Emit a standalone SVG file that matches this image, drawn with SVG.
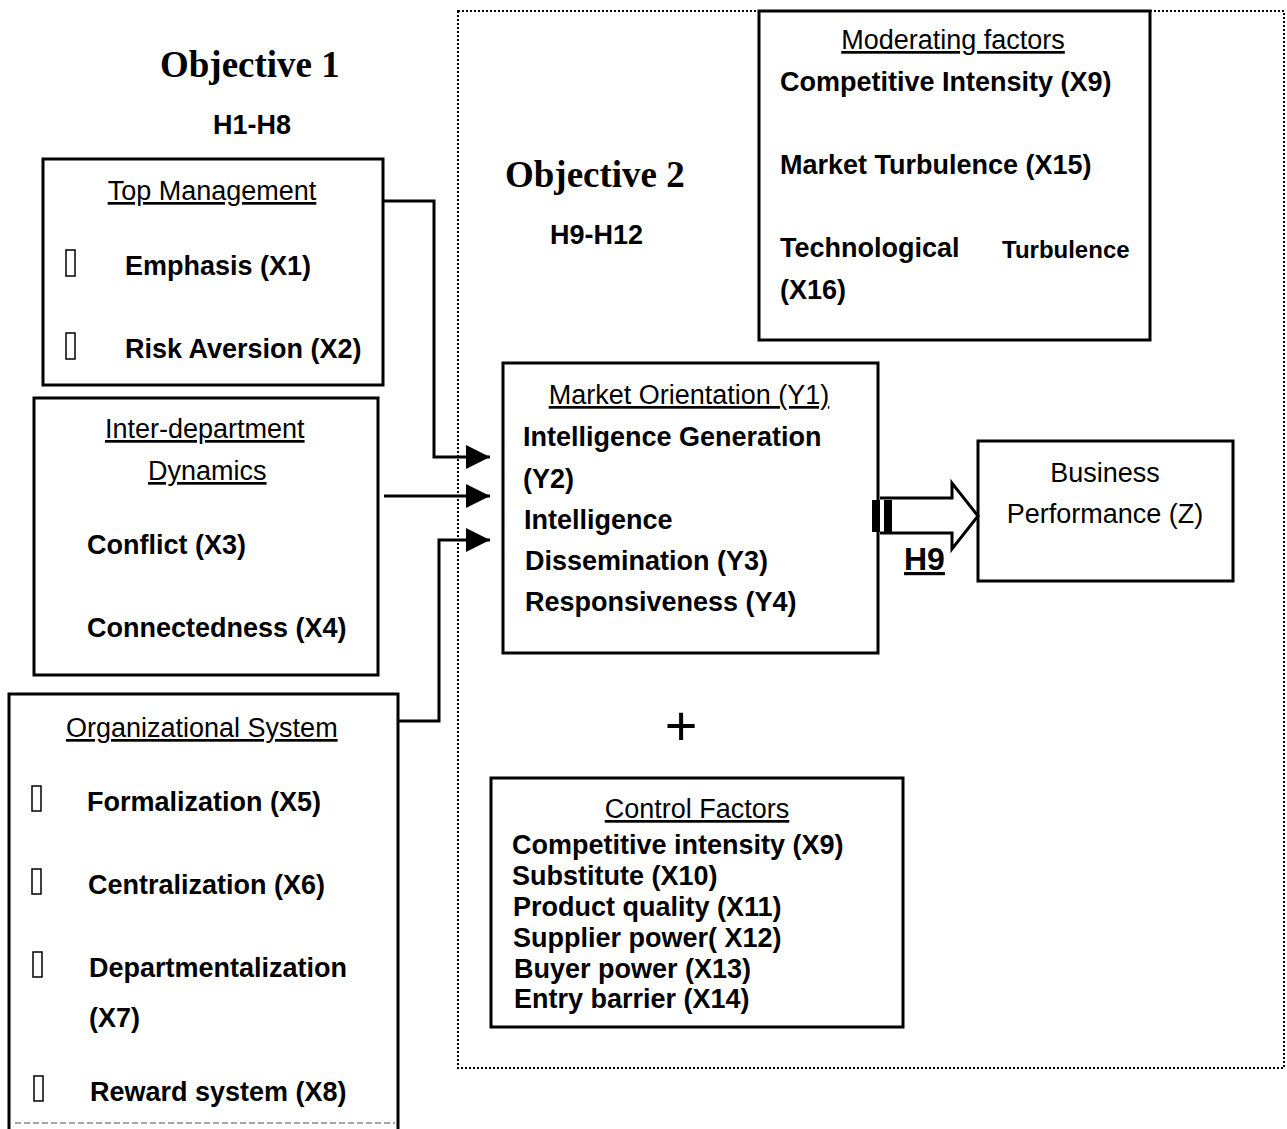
<svg xmlns="http://www.w3.org/2000/svg" width="1287" height="1129" viewBox="0 0 1287 1129">
<defs>
<style>
.box{fill:#fff;stroke:#000;stroke-width:3}
.t{font-family:"Liberation Sans",Arial,sans-serif;font-size:27px;font-weight:bold;fill:#000}
.n{font-family:"Liberation Sans",Arial,sans-serif;font-size:27px;fill:#000}
.u{text-decoration:underline}
.obj{font-family:"Liberation Serif","Times New Roman",serif;font-size:37px;font-weight:bold;fill:#000}
.bul{fill:#fff;stroke:#000;stroke-width:1.5}
.ln{fill:none;stroke:#000;stroke-width:3}
</style>
<marker id="head" viewBox="0 0 24 24" refX="24" refY="12" markerWidth="24" markerHeight="24" markerUnits="userSpaceOnUse" orient="auto">
<path d="M0,0 L24,12 L0,24 Z" fill="#000"/>
</marker>
</defs>
<rect width="1287" height="1129" fill="#fff"/>

<g id="objective2-frame">
<rect x="458" y="11" width="826" height="1057" fill="none" stroke="#000" stroke-width="2" stroke-dasharray="2,2"/>
</g>

<g id="objective1-label">
<text class="obj" x="160" y="77">Objective 1</text>
<text class="t" x="213" y="134">H1-H8</text>
</g>
<g id="objective2-label">
<text class="obj" x="505" y="187">Objective 2</text>
<text class="t" x="550" y="244">H9-H12</text>
</g>

<g id="moderating">
<rect class="box" x="759" y="11" width="391" height="329"/>
<text class="n u" x="953" y="49" text-anchor="middle">Moderating factors</text>
<text class="t" x="780" y="91">Competitive Intensity (X9)</text>
<text class="t" x="780" y="174">Market Turbulence (X15)</text>
<text class="t" x="780" y="257">Technological</text>
<text class="t" x="1002" y="258" style="font-size:24px">Turbulence</text>
<text class="t" x="780" y="299">(X16)</text>
</g>

<g id="top-management">
<rect class="box" x="43" y="159" width="340" height="226"/>
<text class="n u" x="212" y="200" text-anchor="middle">Top Management</text>
<rect class="bul" x="66" y="250" width="9" height="26"/>
<text class="t" x="125" y="275">Emphasis (X1)</text>
<rect class="bul" x="66" y="333" width="9" height="26"/>
<text class="t" x="125" y="358">Risk Aversion (X2)</text>
</g>

<g id="inter-department">
<rect class="box" x="34" y="398" width="344" height="277"/>
<text class="n u" x="105" y="438">Inter-department </text>
<text class="n u" x="148" y="480">Dynamics</text>
<text class="t" x="87" y="554">Conflict (X3)</text>
<text class="t" x="87" y="637">Connectedness (X4)</text>
</g>

<g id="organizational-system">
<path d="M9,1140 V694 H398 V1140" class="ln" fill="#fff"/>
<line x1="15" y1="1123" x2="395" y2="1123" stroke="#888" stroke-width="1.5" stroke-dasharray="6,3"/>
<text class="n u" x="66" y="737">Organizational System</text>
<rect class="bul" x="32" y="786" width="9" height="25"/>
<text class="t" x="87" y="811">Formalization (X5)</text>
<rect class="bul" x="32" y="869" width="9" height="25"/>
<text class="t" x="88" y="894">Centralization (X6)</text>
<rect class="bul" x="33" y="952" width="9" height="25"/>
<text class="t" x="89" y="977">Departmentalization</text>
<text class="t" x="89" y="1027">(X7)</text>
<rect class="bul" x="34" y="1076" width="9" height="25"/>
<text class="t" x="90" y="1101">Reward system (X8)</text>
</g>

<g id="market-orientation">
<rect class="box" x="503" y="363" width="375" height="290"/>
<text class="n u" x="689" y="404" text-anchor="middle">Market Orientation (Y1)</text>
<text class="t" x="523" y="446">Intelligence Generation</text>
<text class="t" x="523" y="488">(Y2)</text>
<text class="t" x="524" y="529">Intelligence</text>
<text class="t" x="525" y="570">Dissemination (Y3)</text>
<text class="t" x="525" y="611">Responsiveness (Y4)</text>
</g>

<g id="business-performance">
<rect class="box" x="978" y="441" width="255" height="140"/>
<text class="n" x="1105" y="482" text-anchor="middle" style="font-size:27px">Business</text>
<text class="n" x="1105" y="523" text-anchor="middle" style="font-size:27px">Performance (Z)</text>
</g>

<g id="plus">
<text class="n" x="681" y="745" text-anchor="middle" style="font-size:56px">+</text>
</g>

<g id="control-factors">
<rect class="box" x="491" y="778" width="412" height="249"/>
<text class="n u" x="697" y="818" text-anchor="middle">Control Factors</text>
<text class="t" x="512" y="854">Competitive intensity (X9)</text>
<text class="t" x="512" y="885">Substitute (X10)</text>
<text class="t" x="513" y="916">Product quality (X11)</text>
<text class="t" x="513" y="947">Supplier power( X12)</text>
<text class="t" x="514" y="978">Buyer power (X13)</text>
<text class="t" x="514" y="1008">Entry barrier (X14)</text>
</g>

<g id="connectors">
<path class="ln" d="M383,201 H434 V457 H490" marker-end="url(#head)"/>
<path class="ln" d="M384,496 H490" stroke-width="2" marker-end="url(#head)"/>
<path class="ln" d="M398,721 H439 V540 H490" marker-end="url(#head)"/>
<path d="M880,498 H952 V483 L978,516 L952,549 V533 H880" fill="#fff" stroke="#000" stroke-width="3"/>
<rect x="872" y="500" width="8" height="32" fill="#000"/>
<rect x="884" y="500" width="8" height="32" fill="#000"/>
<text class="t u" x="904" y="570" style="font-size:32px">H9</text>
</g>
</svg>
